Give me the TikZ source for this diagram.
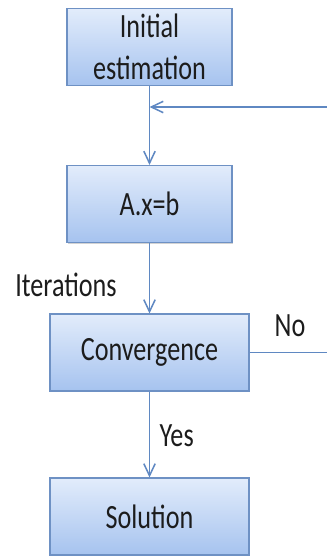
\documentclass[tikz,border=0pt]{standalone}
\usepackage{fontspec}
\setmainfont[FakeStretch=0.77]{Carlito}
\usepackage{xcolor}
\usetikzlibrary{positioning, arrows.meta, shadows}

\definecolor{boxtop}{HTML}{E2ECFB}
\definecolor{boxbot}{HTML}{A6C3EF}
\definecolor{boxline}{HTML}{6E91C4}
\definecolor{flow}{HTML}{5F88C2}
\definecolor{ink}{HTML}{1C1C1C}

\begin{document}
\begin{tikzpicture}[node distance=4.6cm, auto,
    box/.style={rectangle, draw=boxline, line width=1.2pt, top color=boxtop, bottom color=boxbot,
        minimum height=2.3cm, align=center, text=ink,
        drop shadow={shadow xshift=0.6pt, shadow yshift=-1pt, opacity=0.35},
        font=\fontsize{29}{36}\selectfont},
    flowline/.style={draw=flow, line width=1.3pt, -{Straight Barb[length=3.6mm, width=3.4mm]}},
    tag/.style={text=ink, font=\fontsize{29}{36}\selectfont, anchor=base}]
    \useasboundingbox (0,0) rectangle (9.78,16.71);

    \node (init) [box, minimum width=4.95cm] at (4.485,15.3) {Initial\\estimation};
    \node (solve) [box, minimum width=4.95cm, below of=init, node distance=4.71cm] {A.x=b};
    \node (conv) [box, minimum width=5.97cm, below of=solve, node distance=4.455cm] {Convergence};
    \node (sol) [box, minimum width=5.97cm, below of=conv, node distance=4.92cm] {Solution};

    \coordinate (join) at (4.485,13.5);
    \coordinate (edge) at (10.3,13.5);
    \node (iter) [tag] at (1.98,7.8) {Iterations};
    \node (no) [tag] at (8.7,6.6) {No};
    \node (yes) [tag] at (5.3,3.3) {Yes};

    \draw[flowline] (init) -- (solve);
    \draw[flowline] (solve) -- (conv);
    \draw[flowline] (conv) -- (sol);
    \draw[flowline] (conv.east) -| (edge) -- (join);
\end{tikzpicture}
\end{document}
